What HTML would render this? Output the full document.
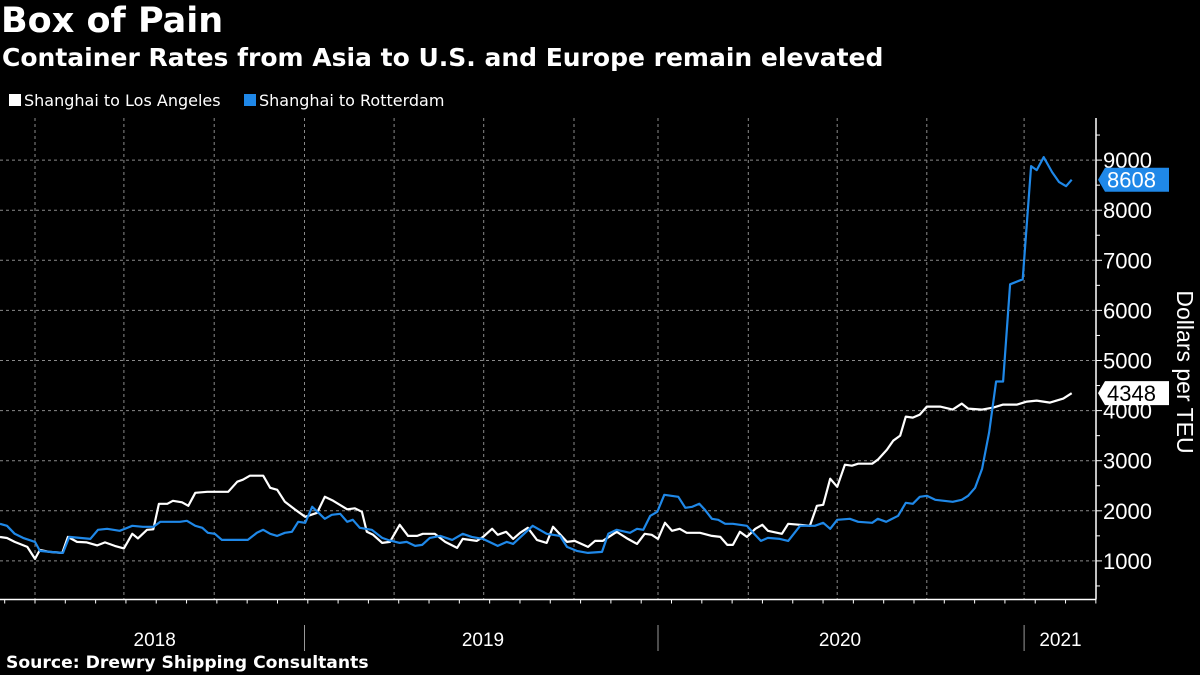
<!DOCTYPE html>
<html><head><meta charset="utf-8">
<style>
html,body{margin:0;padding:0;background:#000;}
body{width:1200px;height:675px;overflow:hidden;position:relative;font-family:"Liberation Sans","DejaVu Sans",sans-serif;color:#fff;}
.t{position:absolute;white-space:nowrap;}
.dj{font-family:"DejaVu Sans","Liberation Sans",sans-serif;}
</style></head><body>
<div class="t dj" style="left:1px;top:1px;font-size:35px;font-weight:bold;">Box of Pain</div>
<div class="t dj" style="left:2px;top:43px;font-size:25px;font-weight:bold;">Container Rates from Asia to U.S. and Europe remain elevated</div>
<div class="t dj" style="left:9px;top:91px;font-size:16px;"><span style="display:inline-block;width:12px;height:12px;background:#fff;margin-right:3px;"></span>Shanghai to Los Angeles</div>
<div class="t dj" style="left:244px;top:91px;font-size:16px;"><span style="display:inline-block;width:12px;height:12px;background:#1f88e8;margin-right:3px;"></span>Shanghai to Rotterdam</div>
<div class="t dj" style="left:6px;top:653px;font-size:17.2px;font-weight:bold;">Source: Drewry Shipping Consultants</div>
<svg id="chart" width="1200" height="675" style="position:absolute;left:0;top:0;"></svg>
<script>
const yTicks=[1000,2000,3000,4000,5000,6000,7000,8000,9000];
const gridWeeks=[5,17.7,30.6,43.5,56.3,69.1,82,94,106.9,119.6,132.4,146.3];
const yearStartWeeks=[43.5,94,146.3];
const yearLabels=["2018","2019","2020","2021"];
const yearLabelWeeks=[22.1,69,120,151.5];
const laWeeks=[0,1,2.1,3.9,5,5.7,7.1,8.9,9.7,11,12.4,13.9,15,16.4,17.7,18.9,19.7,21,21.9,22.7,23.9,24.7,26,26.9,27.9,29.6,32.6,33.9,34.7,35.7,37.6,38.6,39.6,40.7,42.1,43.6,45.3,46.4,47.6,49.6,50.7,51.7,52.4,53.3,54.6,55.7,57.1,58.3,59.6,60.4,62.1,63.6,65.3,66.1,68.1,69,70.3,71.1,72.3,73.3,74.3,75.4,76.7,78.1,79,81,82.1,84,85,86.1,88.1,89.7,91,92.1,93.1,94,95,96,97.1,98.1,100,101.7,102.9,103.9,104.7,105.7,106.7,107.9,108.9,109.7,111.7,112.6,114.3,115.7,116.7,117.6,118.6,119.6,120.7,121.7,122.6,124.6,125.4,126.7,127.6,128.6,129.4,130.4,131.4,132.4,134.3,136.1,137.4,138.3,140.3,141.9,143.3,145.3,146.7,148.1,150,151.9,153.1];
const laValues=[1477,1457,1380,1280,1040,1220,1180,1160,1480,1380,1370,1310,1370,1300,1250,1540,1450,1620,1630,2140,2140,2200,2170,2100,2360,2380,2380,2580,2620,2700,2700,2460,2420,2180,2030,1880,1960,2280,2200,2030,2050,1980,1580,1520,1360,1380,1720,1500,1500,1540,1540,1380,1260,1440,1400,1480,1640,1520,1580,1440,1560,1660,1420,1360,1680,1380,1400,1280,1400,1400,1580,1440,1340,1540,1520,1440,1760,1600,1640,1560,1560,1500,1480,1320,1320,1580,1480,1640,1720,1600,1540,1740,1720,1700,2100,2120,2640,2480,2920,2900,2940,2940,3020,3220,3400,3500,3880,3860,3920,4080,4080,4020,4140,4040,4020,4060,4120,4120,4180,4200,4160,4240,4348];
const rtWeeks=[0,1,2.1,3.3,5,5.7,7.1,9,9.9,11.4,12.9,14,15.3,17.1,18.9,20.4,21.9,22.9,25.7,26.7,27.9,28.9,29.7,30.7,31.7,35.4,36.7,37.6,38.6,39.6,40.7,41.7,42.6,43.6,44.6,46.4,47.4,48.6,49.6,50.4,51.4,53.1,54.6,55.4,57.1,58.1,59.3,60.3,61.4,62.9,64.6,66.1,67.4,69,71.1,72.4,73.3,76.1,78.1,80,81,82.4,84,86,86.9,88.1,90,91,91.9,92.9,93.9,94.9,96.9,97.9,98.9,99.9,100.7,101.7,102.6,103.6,104.7,106.7,107.6,108.7,109.7,111.4,112.6,114.3,116.4,117.6,118.6,119.6,121.4,122.6,124.6,125.4,126.6,128.3,129.4,130.4,131.4,132.4,133.6,136.1,137.4,138.3,139.3,140.3,141.3,142.3,143.3,144.3,146.1,147.3,148.1,149.1,150.3,151.3,152.3,153.1];
const rtValues=[1740,1700,1540,1460,1380,1200,1180,1160,1480,1460,1440,1620,1640,1600,1700,1680,1680,1780,1780,1800,1700,1660,1560,1540,1420,1420,1560,1620,1540,1500,1560,1580,1780,1760,2080,1840,1920,1940,1780,1820,1660,1620,1460,1420,1360,1380,1300,1320,1460,1500,1420,1540,1480,1440,1300,1380,1340,1700,1540,1500,1280,1200,1160,1180,1540,1620,1560,1640,1620,1900,1980,2320,2280,2060,2080,2140,2020,1840,1820,1740,1740,1700,1560,1400,1460,1440,1400,1700,1700,1760,1640,1820,1840,1780,1760,1840,1780,1900,2160,2140,2280,2300,2220,2180,2220,2300,2460,2840,3560,4580,4580,6520,6620,8880,8800,9060,8760,8560,8480,8608];

const svg=document.getElementById('chart');
const NS='http://www.w3.org/2000/svg';
const PX_PER_WEEK=7, Y0=611, PX_PER_K=50.1, AXIS_X=1096, AXIS_Y=599.5, TOP=118;
function xScale(w){return w*PX_PER_WEEK;}
function yScale(v){return Y0-v*PX_PER_K/1000;}
function mk(tag,attrs){const e=document.createElementNS(NS,tag);for(const k in attrs)e.setAttribute(k,attrs[k]);svg.appendChild(e);return e;}

yTicks.forEach(v=>{
  const y=yScale(v);
  const g=mk('line',{x1:0,x2:AXIS_X,y1:y,y2:y,stroke:'#8a8a8a','stroke-width':1,'stroke-dasharray':'3,3'});
  
  
  const t=mk('line',{x1:AXIS_X,x2:AXIS_X+6,y1:y,y2:y,stroke:'#fff','stroke-width':1});
  
  
  const h=mk('line',{x1:AXIS_X,x2:AXIS_X+4,y1:yScale(v-500),y2:yScale(v-500),stroke:'#fff','stroke-width':1});
  
  
  const lb=mk('text',{x:1103,y:y+8,fill:'#fff','font-size':22,'font-family':'Liberation Sans, sans-serif'});
  lb.textContent=v;
  
  
});
const topTick=mk('line',{x1:AXIS_X,x2:AXIS_X+4,y1:yScale(9500),y2:yScale(9500),stroke:'#fff'});



gridWeeks.forEach(w=>{
  const x=xScale(w);
  const g=mk('line',{x1:x,x2:x,y1:TOP,y2:AXIS_Y,stroke:'#8a8a8a','stroke-width':1,'stroke-dasharray':'3,3'});
  
  
});
for(let m=-3;m<=40;m++){
  const w=5+m*4.33;
  const x=xScale(w);
  if(x<0||x>AXIS_X) continue;
  const t=mk('line',{x1:x,x2:x,y1:AXIS_Y,y2:AXIS_Y+4,stroke:'#fff','stroke-width':1});
  
  
}
yearStartWeeks.forEach(w=>{
  const x=xScale(w);
  const t=mk('line',{x1:x,x2:x,y1:625,y2:651,stroke:'#999','stroke-width':1});
  
  
});
yearLabels.forEach((s,i)=>{
  const t=mk('text',{x:xScale(yearLabelWeeks[i]),y:646,fill:'#fff','font-size':19,'text-anchor':'middle','font-family':'Liberation Sans, sans-serif'});
  t.textContent=s;
  
  
});
const ax=mk('line',{x1:0,x2:AXIS_X,y1:AXIS_Y,y2:AXIS_Y,stroke:'#fff','stroke-width':1.5});


const ay=mk('line',{x1:AXIS_X,x2:AXIS_X,y1:TOP,y2:AXIS_Y,stroke:'#fff','stroke-width':1.5});


const yt=mk('text',{x:0,y:0,fill:'#fff','font-size':23,'text-anchor':'middle','font-family':'Liberation Sans, sans-serif',transform:'translate(1177,372) rotate(90)'});
yt.textContent='Dollars per TEU';



function series(ws,vs,color,name){
  const d=ws.map((w,i)=>(i?'L':'M')+xScale(w).toFixed(1)+','+yScale(vs[i]).toFixed(1)).join('');
  const p=mk('path',{d:d,fill:'none',stroke:color,'stroke-width':2.2,'stroke-linejoin':'round'});
  
  
}
series(laWeeks,laValues,'#ffffff','los-angeles-line');
series(rtWeeks,rtValues,'#1f88e8','rotterdam-line');

function badge(v,bg,fg,name){
  const y=yScale(v);
  const p=mk('path',{d:`M1098,${y}L1105,${y-12}L1169,${y-12}L1169,${y+12}L1105,${y+12}Z`,fill:bg});
  
  
  const t=mk('text',{x:1107,y:y+8,fill:fg,'font-size':22,'font-family':'Liberation Sans, sans-serif'});
  t.textContent=v;
  
  
}
badge(rtValues[rtValues.length-1],'#1f88e8','#fff','rotterdam-last');
badge(laValues[laValues.length-1],'#fff','#000','los-angeles-last');
</script>
</body></html>
